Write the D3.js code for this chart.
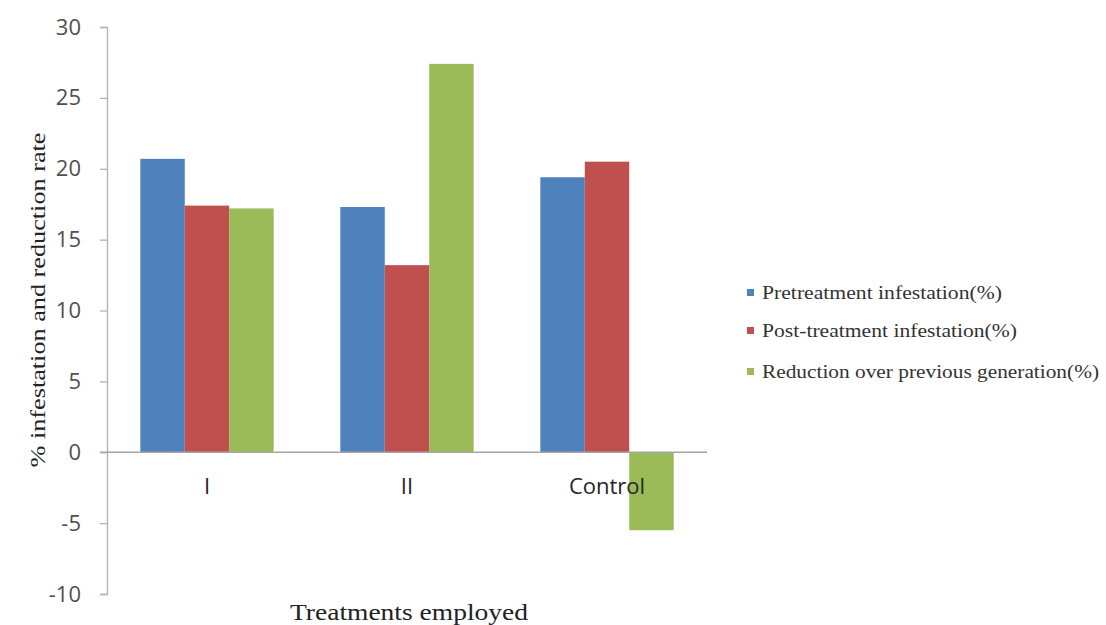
<!DOCTYPE html>
<html>
<head>
<meta charset="utf-8">
<script src="https://cdn.jsdelivr.net/npm/d3@7"></script>
<style>
  html, body { margin: 0; padding: 0; background: #fff; }
  svg { display: block; }
</style>
</head>
<body>
<svg id="chart" width="1106" height="625"></svg>
<script>
const categories = ["I", "II", "Control"];
const seriesNames = ["Pretreatment infestation(%)", "Post-treatment infestation(%)", "Reduction over previous generation(%)"];
const pretreatment = [20.7, 17.3, 19.4];
const postTreatment = [17.4, 13.2, 20.5];
const reduction = [17.2, 27.4, -5.5];
const yTicks = [-10, -5, 0, 5, 10, 15, 20, 25, 30];
const yTickLabels = ["-10", "-5", "0", "5", "10", "15", "20", "25", "30"];
const colors = ["#4f81bd", "#c0504d", "#9bbb59"];

const seriesValues = [pretreatment, postTreatment, reduction];

(function () {
const svg = d3.select("#chart");
const plotLeft = 107, plotRight = 707, plotTop = 27, plotBottom = 594;

const y = d3.scaleLinear().domain([-10, 30]).range([plotBottom, plotTop]);
const x0 = d3.scaleBand().domain(categories).range([plotLeft, plotRight]).paddingInner(0).paddingOuter(0);
// Excel gap width 150%: bar width = band / (3 + 1.5)
const barW = x0.bandwidth() / 4.5;
const x1 = d3.scaleBand().domain(d3.range(seriesNames.length))
  .range([0, barW * 3]);

// Y axis
const yAxis = d3.axisLeft(y).tickValues(yTicks).tickSize(7).tickPadding(19)
  .tickFormat((d, i) => yTickLabels[i]);
const gy = svg.append("g").attr("transform", `translate(${plotLeft},0)`).call(yAxis);
gy.select(".domain").attr("stroke", "#b3b3b3").attr("stroke-width", 1.3);
gy.selectAll(".tick line").attr("stroke", "#b3b3b3").attr("stroke-width", 1.3);
gy.selectAll(".tick text")
  .attr("font-family", "'Open Sans', sans-serif")
  .attr("font-size", 22)
  .attr("fill", "#505050");

// Bars
const groups = svg.append("g").selectAll("g")
  .data(categories)
  .join("g")
  .attr("transform", d => `translate(${x0(d) + (x0.bandwidth() - barW * 3) / 2},0)`);

groups.selectAll("rect")
  .data((c, ci) => seriesValues.map((vals, si) => ({ si, v: vals[ci] })))
  .join("rect")
  .attr("x", d => x1(d.si))
  .attr("width", x1.bandwidth())
  .attr("y", d => y(Math.max(0, d.v)))
  .attr("height", d => Math.abs(y(d.v) - y(0)))
  .attr("fill", d => colors[d.si]);

// Zero (category) axis line
svg.append("line")
  .attr("x1", plotLeft - 7).attr("x2", plotRight)
  .attr("y1", y(0)).attr("y2", y(0))
  .attr("stroke", "#a6a6a6").attr("stroke-width", 1.3);

// Category labels
svg.append("g").selectAll("text")
  .data(categories)
  .join("text")
  .attr("x", d => x0(d) + x0.bandwidth() / 2)
  .attr("y", y(0) + 42)
  .attr("text-anchor", "middle")
  .attr("font-family", "'Open Sans', sans-serif")
  .attr("font-size", 22)
  .attr("fill", "#262626")
  .text(d => d);

// Y axis title
svg.append("text")
  .attr("transform", "translate(45,300) rotate(-90)")
  .attr("text-anchor", "middle")
  .attr("font-family", "'Liberation Serif', 'Times New Roman', serif")
  .attr("font-size", 22)
  .attr("fill", "#222")
  .attr("textLength", 335)
  .attr("lengthAdjust", "spacingAndGlyphs")
  .text("% infestation and reduction rate");

// X axis title
svg.append("text")
  .attr("x", 409)
  .attr("y", 620)
  .attr("text-anchor", "middle")
  .attr("font-family", "'Liberation Serif', 'Times New Roman', serif")
  .attr("font-size", 23)
  .attr("fill", "#222")
  .attr("textLength", 238)
  .attr("lengthAdjust", "spacingAndGlyphs")
  .text("Treatments employed");

// Legend
const legendRowsY = [293, 331, 372];
const legendWidths = [240, 255, 337];
const legend = svg.append("g").selectAll("g")
  .data(seriesNames)
  .join("g")
  .attr("transform", (d, i) => `translate(747,${legendRowsY[i]})`);
legend.append("rect")
  .attr("x", 0).attr("y", -4).attr("width", 7).attr("height", 7)
  .attr("fill", (d, i) => colors[i]);
legend.append("text")
  .attr("x", 15).attr("y", 6)
  .attr("font-family", "'Liberation Serif', 'Times New Roman', serif")
  .attr("font-size", 18)
  .attr("fill", "#333")
  .attr("textLength", (d, i) => legendWidths[i])
  .attr("lengthAdjust", "spacingAndGlyphs")
  .text(d => d);
})();
</script>
</body>
</html>
